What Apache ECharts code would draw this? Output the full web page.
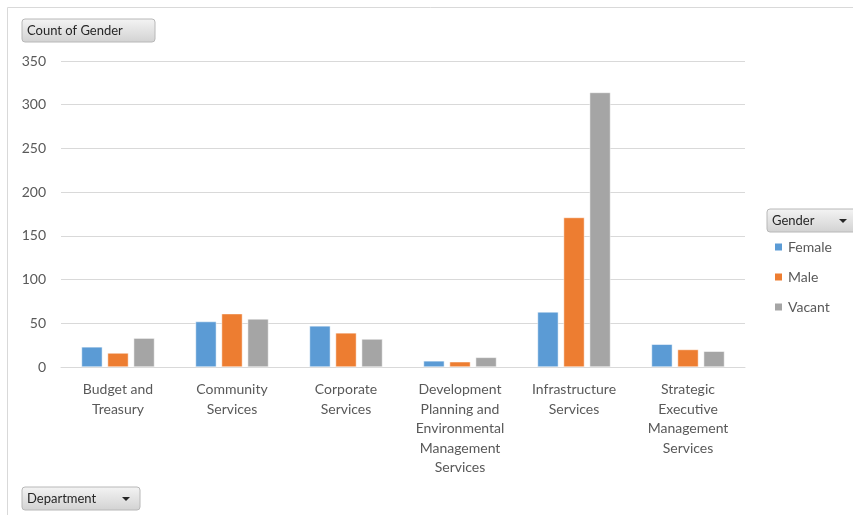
<!DOCTYPE html>
<html>
<head>
<meta charset="utf-8">
<script src="https://cdn.jsdelivr.net/npm/echarts@6/dist/echarts.min.js"></script>
<style>
  html, body { margin: 0; padding: 0; background: #fff; }
  #chart { width: 853px; height: 515px; }
</style>
</head>
<body>
<div id="chart"></div>
<script>
// 数据
var departments = [
    'Budget and\nTreasury',
    'Community\nServices',
    'Corporate\nServices',
    'Development\nPlanning and\nEnvironmental\nManagement\nServices',
    'Infrastructure\nServices',
    'Strategic\nExecutive\nManagement\nServices'
]
var female = [23, 52, 47, 7, 63, 26]
var male = [16, 61, 39, 6, 171, 20]
var vacant = [33, 55, 32, 11, 314, 18]
var yTicks = [0, 50, 100, 150, 200, 250, 300, 350]

var fontFamily = 'Lato, "Open Sans", sans-serif'
var textColor = '#595959'

// 灰色的按钮
function button (x, y, w, label, arrow) {
    var children = [{
        type: 'rect',
        shape: { x: x, y: y, width: w, height: 23, r: 3 },
        style: {
            fill: new echarts.graphic.LinearGradient(0, 0, 0, 1, [
                { offset: 0, color: '#F4F4F4' },
                { offset: 1, color: '#D2D2D2' }
            ]),
            stroke: '#B8B8B8',
            lineWidth: 1
        }
    }, {
        type: 'text',
        x: x + 5,
        y: y + 12,
        style: {
            text: label,
            fill: '#262626',
            font: '13px ' + fontFamily,
            verticalAlign: 'middle'
        }
    }]
    if (arrow) {
        children.push({
            type: 'polygon',
            shape: { points: [[x + w - 18, y + 10], [x + w - 10, y + 10], [x + w - 14, y + 14]] },
            style: { fill: '#262626' }
        })
    }
    return { type: 'group', children: children }
}

var myChart = echarts.init(document.getElementById('chart'))
myChart.setOption({
    animation: false,
    color: ['#5B9BD5', '#ED7D31', '#A5A5A5'],
    grid: {
        left: 61,
        right: 108,
        top: 61,
        bottom: 148
    },
    legend: {
        orient: 'vertical',
        left: 773,
        top: 240,
        padding: 0,
        itemGap: 16,
        icon: 'rect',
        itemWidth: 9,
        itemHeight: 9,
        textStyle: { fontFamily: fontFamily, fontSize: 14, color: textColor },
        data: ['Female', 'Male', 'Vacant']
    },
    xAxis: {
        type: 'category',
        data: departments,
        axisTick: { show: false },
        axisLine: { lineStyle: { color: '#D9D9D9' } },
        axisLabel: {
            interval: 0,
            margin: 13,
            lineHeight: 19.5,
            fontFamily: fontFamily,
            fontSize: 14,
            color: textColor
        }
    },
    yAxis: {
        type: 'value',
        min: 0,
        max: 350,
        interval: 50,
        axisLine: { show: false },
        axisTick: { show: false },
        splitLine: { lineStyle: { color: '#D9D9D9' } },
        axisLabel: {
            margin: 15,
            fontFamily: fontFamily,
            fontSize: 14,
            color: textColor,
            formatter: function (v) { return yTicks.indexOf(v) > -1 ? String(v) : '' }
        }
    },
    series: [{
        name: 'Female',
        type: 'bar',
        data: female,
        barGap: '25%',
        barCategoryGap: '36%',
        itemStyle: { borderColor: '#fff', borderWidth: 0.5 }
    }, {
        name: 'Male',
        type: 'bar',
        data: male,
        itemStyle: { borderColor: '#fff', borderWidth: 0.5 }
    }, {
        name: 'Vacant',
        type: 'bar',
        data: vacant,
        itemStyle: { borderColor: '#fff', borderWidth: 0.5 }
    }],
    graphic: [
        {
            type: 'rect',
            shape: { x: 7.5, y: 7.5, width: 900, height: 600 },
            style: { fill: 'none', stroke: '#D9D9D9', lineWidth: 1 },
            silent: true
        },
        button(22, 19, 133, 'Count of Gender', false),
        button(767, 209, 90, 'Gender', true),
        button(22, 487, 118, 'Department', true)
    ]
})
window.addEventListener('resize', function () {
    myChart.resize()
})
</script>
</body>
</html>
